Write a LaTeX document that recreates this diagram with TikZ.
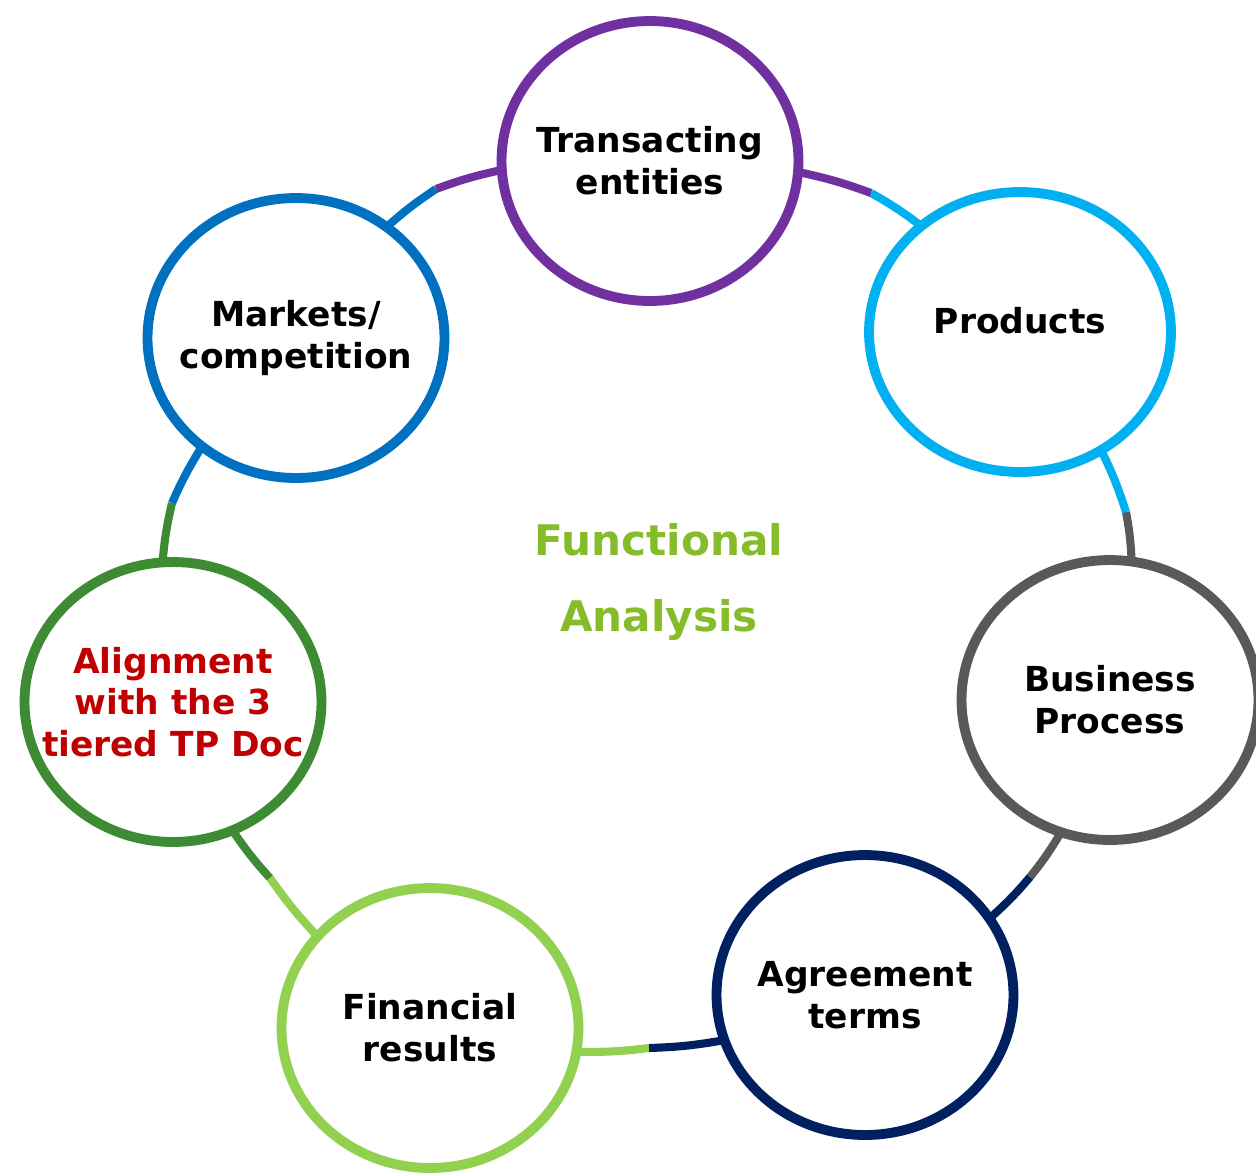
\documentclass[tikz,border=0pt]{standalone}
\usepackage{fontspec}
\setmainfont{DejaVu Sans}
\usetikzlibrary{shapes.geometric}
\definecolor{cPurple}{HTML}{7030A0}
\definecolor{cSky}{HTML}{00B0F0}
\definecolor{cGray}{HTML}{595959}
\definecolor{cNavy}{HTML}{002060}
\definecolor{cLime}{HTML}{92D050}
\definecolor{cGreen}{HTML}{3D8B33}
\definecolor{cBlue}{HTML}{0070C0}
\definecolor{cRed}{HTML}{C00000}
\definecolor{cTitle}{HTML}{86BC2A}

\begin{document}
\begin{tikzpicture}[x=0.02cm, y=-0.02cm,
  topic/.style={ellipse, draw, line width=5.6pt, minimum width=5.94cm, minimum height=5.6cm,
    inner sep=-0.7cm, outer sep=0pt, align=center, font=\fontsize{19.6}{23.8}\selectfont\bfseries},
  conn/.style={line width=4.6pt, bend right=4}]
\useasboundingbox (0,0) rectangle (1256,1174);
% split points on the ring
\coordinate (m1) at (436,189);
\coordinate (m2) at (871,193);
\coordinate (m3) at (1126,512);
\coordinate (m4) at (1030,877);
\coordinate (m5) at (649,1048);
\coordinate (m6) at (270,878);
\coordinate (m7) at (172,503);
% topics
\node [topic, cPurple] (tr) at (650,161) {\color{black}Transacting\\\color{black}entities};
\node [topic, cSky, minimum width=6.04cm] (pr) at (1020,332) {\color{black}\raisebox{0.48cm}{Products}};
\node [topic, cGray] (bp) at (1110,700) {\color{black}Business\\\color{black}Process};
\node [topic, cNavy] (ag) at (865,995) {\color{black}Agreement\\\color{black}terms};
\node [topic, cLime] (fi) at (430,1028) {\color{black}Financial\\\color{black}results};
\node [topic, cGreen] (al) at (173,702) {\color{cRed}Alignment\\\color{cRed}with the 3\\\color{cRed}tiered TP Doc};
\node [topic, cBlue] (mk) at (296,338) {\color{black}Markets/\\\color{black}competition};
% ring
\draw [conn, cPurple] (tr) to (m1); \draw [conn, cBlue] (m1) to (mk);
\draw [conn, cBlue] (mk) to (m7); \draw [conn, cGreen] (m7) to (al);
\draw [conn, cGreen] (al) to (m6); \draw [conn, cLime] (m6) to (fi);
\draw [conn, cLime] (fi) to (m5); \draw [conn, cNavy] (m5) to (ag);
\draw [conn, cNavy] (ag) to (m4); \draw [conn, cGray] (m4) to (bp);
\draw [conn, cGray] (bp) to (m3); \draw [conn, cSky] (m3) to (pr);
\draw [conn, cSky] (pr) to (m2); \draw [conn, cPurple] (m2) to (tr);
% centre
\node [cTitle, align=center, font=\fontsize{24}{43.8}\selectfont\bfseries] (fa) at (659,582) {Functional\\Analysis};
\end{tikzpicture}
\end{document}
